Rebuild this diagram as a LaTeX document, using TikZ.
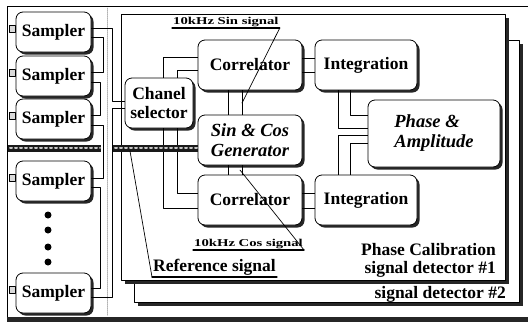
\documentclass[tikz,border=0pt]{standalone}
\usepackage{graphicx}
\usepackage{fontspec}
\setmainfont{Liberation Serif}
\usetikzlibrary{shadows,positioning}

\tikzset{
  blk/.style={draw, line width=0.8pt, rounded corners=7pt, fill=white, align=center,
    inner sep=2pt, font=\fontsize{17.5}{19}\selectfont\bfseries,
    drop shadow={shadow xshift=2.5pt, shadow yshift=-2.5pt, fill=black!85, opacity=1}},
  itblk/.style={blk, align=left, font=\fontsize{18.5}{20}\selectfont\bfseries\itshape},
  panel/.style={draw, line width=0.8pt, fill=white,
    drop shadow={shadow xshift=4pt, shadow yshift=-4pt, fill=black!85, opacity=1}},
  port/.style={draw, line width=0.7pt, fill=gray!30, inner sep=0pt,
    minimum width=6pt, minimum height=7pt},
  wire/.style={line width=0.7pt},
  uline/.style={line width=1.1pt},
  lbl/.style={inner sep=1pt, font=\fontsize{17.5}{18}\selectfont\bfseries},
  tag/.style={inner sep=1pt, font=\fontsize{10.5}{12}\selectfont\bfseries},
}

\begin{document}
\begin{tikzpicture}[x=1pt, y=-1pt, line cap=round, line join=round]
\useasboundingbox (0,0) rectangle (528,325);

% outer frame
\draw[line width=0.8pt] (7,318) -- (7,6) -- (528,6);
\fill[black!85] (7,317) rectangle (528,322);

% detector #2 behind detector #1
\draw[panel] (134,40) rectangle (519,302);
\node[lbl, anchor=base east] (det2) at (507,298) {signal detector \#2};
\draw[panel] (121,14) rectangle (505,280);

% samplers
\node[blk, minimum width=75, minimum height=40] (S1) at (53.5,32)  {Sampler};
\node[blk, minimum width=75, minimum height=40] (S2) at (53.5,76)  {Sampler};
\node[blk, minimum width=75, minimum height=40] (S3) at (53.5,119) {Sampler};
\node[blk, minimum width=75, minimum height=40] (S4) at (53.5,181) {Sampler};
\node[blk, minimum width=75, minimum height=40] (S5) at (53.5,293) {Sampler};
\foreach \s in {S1,S2,S3,S4,S5}
  \node[port, anchor=east] (p\s) at ([yshift=3pt]\s.west) {};
\foreach \y in {215,230,247,262}
  \fill (48,\y) circle (3.5pt);

% detector blocks
\node[blk, minimum width=68, minimum height=50]  (sel)   at (159,103) {Chanel\\selector};
\node[blk, minimum width=104, minimum height=50] (corr1) at (250,65)  {Correlator};
\node[itblk, minimum width=104, minimum height=50] (gen) at (250,140) {Sin \& Cos\\Generator};
\node[blk, minimum width=104, minimum height=50] (corr2) at (250,200) {Correlator};
\node[blk, minimum width=102, minimum height=50] (int1)  at (366,65)  {Integration};
\node[blk, minimum width=102, minimum height=50] (int2)  at (366,200) {Integration};
\node[itblk, minimum width=132, minimum height=67] (pa)  at (434,133.5) {Phase \&\\Amplitude};

% sampler chain
\draw[gray!60, densely dotted, line width=1pt] (107,8) -- (107,316);
\draw[wire] (S1.east |- 0,28) -| (112,101) -- (sel.west |- 0,101);
\draw[wire] (S1.east |- 0,37) -| (103,72) -- (S2.east |- 0,72);
\draw[wire] (S2.east |- 0,82) -| (100,115) -- (S3.east |- 0,115);
\draw[wire] (S3.east |- 0,125) -| (103,178) -- (S4.east |- 0,178);
\draw[wire] (S4.east |- 0,187) -| (100,288) -- (S5.east |- 0,288);
\draw[wire] (S5.east |- 0,297) -| (112,108) -- (sel.west |- 0,108);

% selector to correlators
\draw[wire] (sel.north -| 163,0) |- (corr1.west |- 0,57);
\draw[wire] (sel.north -| 177,0) |- (corr1.west |- 0,70);
\draw[wire] (sel.south -| 163,0) |- (corr2.west |- 0,208);
\draw[wire] (sel.south -| 177,0) |- (corr2.west |- 0,193);

% generator to correlators
\foreach \x in {228,242} {
  \draw[wire] (corr1.south -| \x,0) -- (gen.north -| \x,0);
  \draw[wire] (gen.south -| \x,0) -- (corr2.north -| \x,0);
}

% correlators to integrators
\foreach \y in {58,72}
  \draw[wire] (corr1.east |- 0,\y) -- (int1.west |- 0,\y);
\foreach \y in {193,208}
  \draw[wire] (corr2.east |- 0,\y) -- (int2.west |- 0,\y);

% integrators to phase & amplitude
\draw[wire] (int1.south -| 338,0) |- (pa.west |- 0,128);
\draw[wire] (int1.south -| 350,0) |- (pa.west |- 0,115);
\draw[wire] (int2.north -| 338,0) |- (pa.west |- 0,135);
\draw[wire] (int2.north -| 350,0) |- (pa.west |- 0,143);

% reference bus
\foreach \a/\b in {8/101,113/198} {
  \fill[black!90] (\a,144.5) rectangle (\b,151.5);
  \draw[gray!45, line width=2pt, dash pattern=on 2pt off 3pt] (\a+2,148) -- (\b-1,148);
}

% signal labels
\coordinate (sinend) at (242,103);
\coordinate (cosend) at (240,170);
\coordinate (refbus) at (130,151);
\node[tag, anchor=south west] (sinlbl) at (172,28) {\scalebox{1.4}[1]{10kHz Sin signal}};
\draw[uline] (sinlbl.south west) -- (sinlbl.south east);
\draw[wire] (sinlbl.south east) -- (sinend);
\node[tag, anchor=south west] (coslbl) at (193,250) {\scalebox{1.4}[1]{10kHz Cos signal}};
\draw[uline] (coslbl.south west) -- (coslbl.south east);
\draw[wire] (coslbl.south east) -- (cosend);
\node[lbl, anchor=south west] (reflbl) at (152,277) {Reference signal};
\draw[uline] (reflbl.south west) -- (reflbl.south east);
\draw[wire] (refbus) -- (reflbl.south west);

\node[lbl, anchor=south east, align=right] (det1) at (497,279)
  {Phase Calibration\\signal detector \#1};

\end{tikzpicture}
\end{document}
